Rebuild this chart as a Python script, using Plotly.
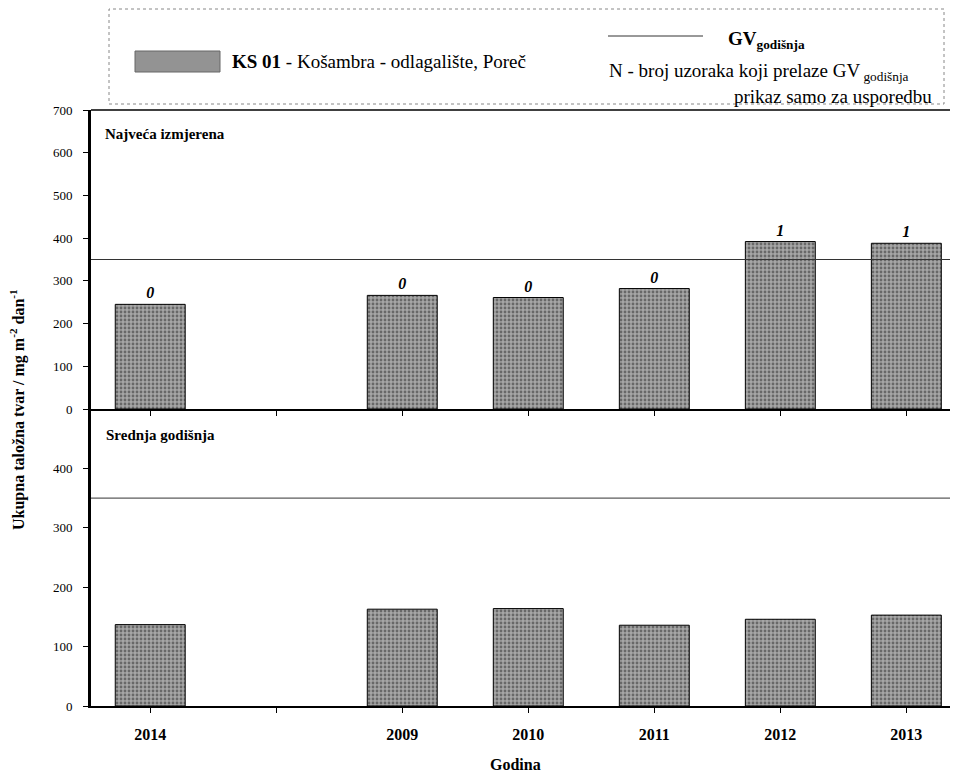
import plotly.graph_objects as go
from plotly.subplots import make_subplots

# ---- data ----
years = ["2014", " ", "2009", "2010", "2011", "2012", "2013"]
max_measured = [245, None, 266, 261, 282, 392, 388]
annual_mean = [137, None, 163, 164, 136, 146, 153]
n_exceed = ["0", "", "0", "0", "0", "1", "1"]
gv_annual = 350
top_ticks = [0, 100, 200, 300, 400, 500, 600, 700]
bottom_ticks = [0, 100, 200, 300, 400]

FONT = "Liberation Serif, Times New Roman, serif"
BAR_FILL = dict(color="#9a9a9a",
                pattern=dict(shape=".", fgcolor="#2a2a2a", bgcolor="#a6a6a6",
                             size=4, solidity=0.4))

# page (browser) geometry: the page has an 8px body margin
OFF = 8
W, H = 950, 767
PL, PR, PT, PB = 91, 958, 110, 706          # plot area in page pixels
L, R, T, B = PL - OFF, OFF + W - PR, PT - OFF, OFF + H - PB


def px(xp):
    return (xp - PL) / (PR - PL)


def py(yp):
    return (PB - yp) / (PB - PT)


split = py(409)

fig = make_subplots(rows=2, cols=1, vertical_spacing=0.0)

fig.add_trace(go.Bar(
    x=years, y=max_measured, width=0.555,
    marker=dict(**BAR_FILL, line=dict(color="black", width=1)),
    text=n_exceed, textposition="outside", cliponaxis=False,
    texttemplate="<b><i>%{text}</i></b>",
    textfont=dict(family=FONT, size=16, color="black"),
    showlegend=False), row=1, col=1)

fig.add_trace(go.Bar(
    x=years, y=annual_mean, width=0.555,
    marker=dict(**BAR_FILL, line=dict(color="black", width=1)),
    showlegend=False), row=2, col=1)

fig.update_layout(
    width=W, height=H,
    margin=dict(l=L, r=R, t=T, b=B, pad=0),
    plot_bgcolor="white", paper_bgcolor="white",
    font=dict(family=FONT, color="black"),
)

fig.update_xaxes(categoryorder="array", categoryarray=years,
                 range=[-0.47, 6.41], showline=True, linecolor="black", linewidth=2,
                 ticks="outside", ticklen=5, tickcolor="black", showgrid=False,
                 zeroline=False)
fig.update_xaxes(showticklabels=False, row=1, col=1)
fig.update_xaxes(tickfont=dict(family=FONT, size=16, weight="bold"),
                 ticklabelstandoff=8, row=2, col=1)

fig.update_yaxes(showline=True, linecolor="black", linewidth=3, ticks="outside",
                 ticklen=5, tickcolor="black", showgrid=False, zeroline=False,
                 ticklabelstandoff=8,
                 tickfont=dict(family=FONT, size=13))
fig.update_yaxes(range=[0, 700], tickvals=top_ticks, row=1, col=1)
fig.update_yaxes(range=[0, 500], tickvals=bottom_ticks, row=2, col=1)

fig.update_layout(
    yaxis=dict(domain=[split, 1.0]),
    yaxis2=dict(domain=[0.0, split]),
)

shapes = []
for yref in ("y", "y2"):
    shapes.append(dict(type="line", xref="paper", yref=yref, x0=0, x1=1,
                       y0=gv_annual, y1=gv_annual,
                       line=dict(color="#333333", width=1)))
shapes.append(dict(type="line", xref="paper", yref="paper", x0=0, x1=1, y0=1, y1=1,
                   line=dict(color="black", width=1.5)))
# legend box
shapes.append(dict(type="rect", xref="paper", yref="paper",
                   x0=px(109), x1=px(944), y0=py(104), y1=py(9),
                   line=dict(color="#888888", width=1, dash="dot")))
# legend swatch
shapes.append(dict(type="rect", xref="paper", yref="paper",
                   x0=px(135), x1=px(220), y0=py(72), y1=py(51),
                   fillcolor="#939393", line=dict(color="#666666", width=1)))
# legend GV line
shapes.append(dict(type="line", xref="paper", yref="paper",
                   x0=px(608), x1=px(703), y0=py(36), y1=py(36),
                   line=dict(color="#333333", width=1)))
fig.update_layout(shapes=shapes)

ann = [
    dict(text="<b>KS 01</b> - Košambra - odlagalište, Poreč", x=px(230), y=py(62),
         xanchor="left", yanchor="middle", font=dict(family=FONT, size=19)),
    dict(text="<b>GV<sub>godišnja</sub></b>", x=px(726), y=py(40),
         xanchor="left", yanchor="middle", font=dict(family=FONT, size=19)),
    dict(text="N - broj uzoraka koji prelaze GV<sub> godišnja</sub>", x=px(607), y=py(72),
         xanchor="left", yanchor="middle", font=dict(family=FONT, size=19)),
    dict(text="prikaz samo za usporedbu", x=px(934), y=py(97),
         xanchor="right", yanchor="middle", font=dict(family=FONT, size=19)),
    dict(text="<b>Najveća izmjerena</b>", x=px(103), y=py(134),
         xanchor="left", yanchor="middle", font=dict(family=FONT, size=15)),
    dict(text="<b>Srednja godišnja</b>", x=px(104), y=py(435),
         xanchor="left", yanchor="middle", font=dict(family=FONT, size=15)),
    dict(text="<b>Ukupna taložna tvar / mg m<sup>-2</sup> dan<sup>-1</sup></b>",
         x=px(17), y=py(410), textangle=-90, xanchor="center", yanchor="middle",
         font=dict(family=FONT, size=16)),
    dict(text="<b>Godina</b>", x=px(515), y=py(764), xanchor="center",
         yanchor="middle", font=dict(family=FONT, size=16)),
]
for a in ann:
    a.update(xref="paper", yref="paper", showarrow=False)
fig.update_layout(annotations=ann)

fig.write_html("out.html")
